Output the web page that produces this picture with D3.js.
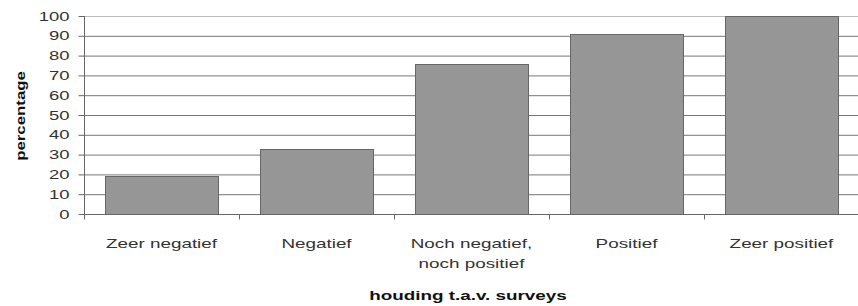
<!DOCTYPE html>
<html>
<head>
<meta charset="utf-8">
<script src="https://cdn.jsdelivr.net/npm/d3@7"></script>
<style>
  body { margin: 0; background: #fff; }
  text { font-family: "Liberation Sans", Arial, sans-serif; }
</style>
</head>
<body>
<svg></svg>
<script>
var categories = [["Zeer negatief"], ["Negatief"], ["Noch negatief,", "noch positief"], ["Positief"], ["Zeer positief"]];
var values = [19, 33, 76, 91, 100];
var yTicks = [0, 10, 20, 30, 40, 50, 60, 70, 80, 90, 100];

// the original font is a wide one, so stretch the text sideways
function widen(sel, factor) {
    sel.each(function() {
        var len = this.getComputedTextLength();
        d3.select(this)
            .attr("textLength", len * factor)
            .attr("lengthAdjust", "spacingAndGlyphs");
    });
}

function draw() {
    var width = 858, height = 306;
    var margin = { left: 84, right: -1, top: 16, bottom: 92 };

    var svg = d3.select("svg")
        .attr("width", width)
        .attr("height", height);

    var x = d3.scaleBand()
        .domain(d3.range(categories.length))
        .range([margin.left, width - margin.right])
        .paddingInner(0.27)
        .paddingOuter(0.135);

    var y = d3.scaleLinear()
        .domain([0, 100])
        .range([height - margin.bottom, margin.top]);

    // gridlines
    svg.append("g").selectAll("line")
        .data(yTicks.slice(1))
        .enter().append("line")
        .attr("x1", margin.left)
        .attr("x2", width)
        .attr("y1", function(d) { return y(d) + 0.5; })
        .attr("y2", function(d) { return y(d) + 0.5; })
        .attr("stroke", function(d) { return d == 100 ? "#bbb" : "#777"; })
        .attr("stroke-width", 1);

    // bars
    svg.append("g").selectAll("rect")
        .data(values)
        .enter().append("rect")
        .attr("x", function(d, i) { return Math.round(x(i)) + 0.5; })
        .attr("y", function(d) { return Math.round(y(d)) + 0.5; })
        .attr("width", Math.round(x.bandwidth()))
        .attr("height", function(d) { return Math.round(y(0)) - Math.round(y(d)); })
        .attr("fill", "#969696")
        .attr("stroke", "#666")
        .attr("stroke-width", 1);

    // y axis
    var yAxis = svg.append("g")
        .attr("transform", "translate(" + (margin.left + 0.5) + ",0)")
        .call(d3.axisLeft(y).tickValues(yTicks).tickSize(6).tickPadding(9));
    yAxis.select(".domain").attr("stroke", "#666").attr("d", "M0," + y(100) + "V" + (y(0) + 3));
    yAxis.selectAll(".tick line").attr("stroke", "#666");
    yAxis.selectAll("text")
        .attr("font-size", 13)
        .attr("fill", "#333")
        .attr("font-family", "Liberation Sans, Arial, sans-serif")
        .call(widen, 1.42);

    // x axis
    var xAxis = svg.append("g")
        .attr("transform", "translate(0," + (y(0) + 0.5) + ")");
    xAxis.append("line")
        .attr("x1", margin.left)
        .attr("x2", width)
        .attr("stroke", "#666");
    var step = x.step();
    xAxis.selectAll(".sep")
        .data(d3.range(categories.length + 1))
        .enter().append("line")
        .attr("class", "sep")
        .attr("x1", function(d) { return Math.round(margin.left + d * step) + 0.5; })
        .attr("x2", function(d) { return Math.round(margin.left + d * step) + 0.5; })
        .attr("y1", 0)
        .attr("y2", 5)
        .attr("stroke", "#666");

    // category labels, one text per line so each can be stretched
    categories.forEach(function(lines, i) {
        lines.forEach(function(s, j) {
            xAxis.append("text")
                .attr("class", "lab")
                .attr("x", x(i) + x.bandwidth() / 2)
                .attr("y", 33 + j * 20)
                .attr("text-anchor", "middle")
                .attr("font-size", 13)
                .attr("fill", "#333")
                .text(s);
        });
    });
    xAxis.selectAll(".lab").call(widen, 1.45);

    // axis titles
    svg.append("text")
        .attr("x", 468)
        .attr("y", 300)
        .attr("text-anchor", "middle")
        .attr("font-size", 13)
        .attr("font-weight", "bold")
        .attr("fill", "#111")
        .text("houding t.a.v. surveys")
        .call(widen, 1.45);

    svg.append("text")
        .attr("transform", "translate(25," + ((y(0) + y(100)) / 2 + 1) + ") rotate(-90)")
        .attr("text-anchor", "middle")
        .attr("font-size", 12)
        .attr("font-weight", "bold")
        .attr("fill", "#111")
        .text("percentage")
        .call(widen, 1.4);
}
window.onload = draw;
</script>
</body>
</html>
